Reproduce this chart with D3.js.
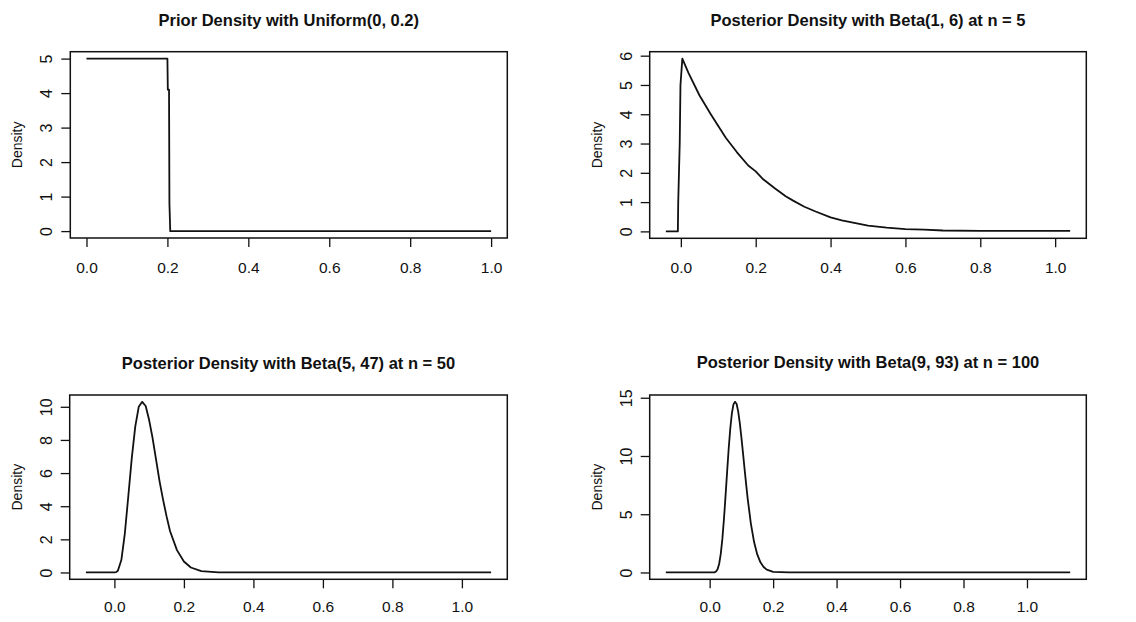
<!DOCTYPE html>
<html>
<head>
<meta charset="utf-8">
<script src="https://cdn.jsdelivr.net/npm/d3@7"></script>
<style>
body { margin: 0; background: #fff; }
text { font-family: "Liberation Sans", Arial, sans-serif; fill: #111; }
</style>
</head>
<body>
<div id="chart"></div>
<script>
// values (x, density)
let priorX = [0, 0.2, 0.201, 0.204, 0.205, 0.207, 1.0];
let priorY = [5, 5, 4.1, 4.1, 0.8, 0, 0];

let post5X = [-0.04, -0.008, -0.007, -0.003, -0.001, 0.004, 0.02, 0.05, 0.08, 0.1, 0.12, 0.15, 0.18, 0.2,
    0.22, 0.25, 0.28, 0.3, 0.33, 0.36, 0.4, 0.43, 0.46, 0.5, 0.55, 0.6, 0.65, 0.7, 0.8, 0.9, 1.0, 1.04];
let post5Y = [0, 0, 1.0, 3.0, 5.0, 5.9, 5.42, 4.64, 4.0, 3.6, 3.2, 2.7, 2.25, 2.05,
    1.78, 1.48, 1.2, 1.05, 0.84, 0.68, 0.48, 0.38, 0.3, 0.2, 0.13, 0.08, 0.06, 0.03, 0.02, 0.02, 0.02, 0.02];

let post50X = [-0.082, 0.0, 0.005, 0.01, 0.02, 0.03, 0.04, 0.05, 0.06, 0.07, 0.08, 0.09, 0.1, 0.11, 0.12,
    0.13, 0.14, 0.15, 0.16, 0.18, 0.2, 0.22, 0.25, 0.3, 0.4, 1.084];
let post50Y = [0, 0, 0.02, 0.1, 0.75, 2.35, 4.6, 6.9, 8.8, 10.0, 10.3, 10.05, 9.2, 8.1, 6.8,
    5.5, 4.4, 3.4, 2.5, 1.35, 0.66, 0.3, 0.08, 0.01, 0, 0];

let post100X = [-0.138, 0.0, 0.015, 0.02, 0.025, 0.03, 0.035, 0.04, 0.045, 0.05, 0.055, 0.06, 0.065, 0.07,
    0.075, 0.08, 0.085, 0.09, 0.095, 0.1, 0.105, 0.11, 0.115, 0.12, 0.13, 0.14, 0.15, 0.16, 0.17, 0.18,
    0.2, 0.25, 1.136];
let post100Y = [0, 0, 0.01, 0.08, 0.28, 0.75, 1.6, 2.88, 4.57, 6.55, 8.64, 10.64, 12.36, 13.66,
    14.43, 14.65, 14.46, 13.81, 12.82, 11.6, 10.27, 8.89, 7.56, 6.3, 4.18, 2.61, 1.55, 0.87, 0.47, 0.24,
    0.06, 0, 0];

let titles = [
    "Prior Density with Uniform(0, 0.2)",
    "Posterior Density with Beta(1, 6) at n = 5",
    "Posterior Density with Beta(5, 47) at n = 50",
    "Posterior Density with Beta(9, 93) at n = 100"
];
let xTicks = [0, 0.2, 0.4, 0.6, 0.8, 1.0];
let yTicksPrior = [0, 1, 2, 3, 4, 5];
let yTicks5 = [0, 1, 2, 3, 4, 5, 6];
let yTicks50 = [0, 2, 4, 6, 8, 10];
let yTicks100 = [0, 5, 10, 15];
let yLabel = "Density";

let svgwidth = 1136;
let svgheight = 622;

let svg = d3.select("#chart")
    .append("svg")
    .attr("width", svgwidth)
    .attr("height", svgheight);

// plot boxes
let panels = [
    { box: { left: 70.3, right: 507.3, top: 51.7, bottom: 238 }, titleY: 20, labelGap: 14.5, xs: priorX, ys: priorY, yTicks: yTicksPrior },
    { box: { left: 649.7, right: 1086.3, top: 51.7, bottom: 238.3 }, titleY: 20, labelGap: 14.5, xs: post5X, ys: post5Y, yTicks: yTicks5 },
    { box: { left: 69.7, right: 507.3, top: 395, bottom: 579.3 }, titleY: 363, labelGap: 12.5, xs: post50X, ys: post50Y, yTicks: yTicks50 },
    { box: { left: 649.7, right: 1086.3, top: 395, bottom: 579.3 }, titleY: 362.5, labelGap: 12.5, xs: post100X, ys: post100Y, yTicks: yTicks100 }
];

function drawPanel(p, title) {
    let box = p.box;
    let g = svg.append("g");

    // R style: pad the data range by 4% each side
    let xExt = d3.extent(p.xs);
    let xPad = (xExt[1] - xExt[0]) * 0.04;
    let x = d3.scaleLinear()
        .domain([xExt[0] - xPad, xExt[1] + xPad])
        .range([box.left, box.right]);

    let yMax = d3.max(p.ys);
    let y = d3.scaleLinear()
        .domain([-yMax * 0.04, yMax * 1.04])
        .range([box.bottom, box.top]);

    let xAxis = g.append("g")
        .attr("transform", `translate(0, ${box.bottom})`)
        .call(d3.axisBottom(x).tickValues(xTicks).tickSize(9).tickPadding(p.labelGap).tickFormat(d3.format(".1f")));
    xAxis.select(".domain").remove();
    xAxis.selectAll("line").attr("stroke", "#111").attr("stroke-width", 1.3);
    xAxis.selectAll("text")
        .attr("font-size", 15.5)
        .attr("fill", "#111")
        .style("font-family", "'Liberation Sans', Arial, sans-serif");

    let yAxis = g.append("g")
        .attr("transform", `translate(${box.left}, 0)`)
        .call(d3.axisLeft(y).tickValues(p.yTicks).tickSize(9).tickFormat(d3.format("d")));
    yAxis.select(".domain").remove();
    yAxis.selectAll("line").attr("stroke", "#111").attr("stroke-width", 1.3);
    yAxis.selectAll("text")
        .attr("x", null)
        .attr("dy", "0.35em")
        .attr("text-anchor", "middle")
        .attr("transform", "translate(-23.5, 0) rotate(-90)")
        .attr("font-size", 16)
        .attr("fill", "#111")
        .style("font-family", "'Liberation Sans', Arial, sans-serif");

    g.append("rect")
        .attr("x", box.left)
        .attr("y", box.top)
        .attr("width", box.right - box.left)
        .attr("height", box.bottom - box.top)
        .attr("fill", "none")
        .attr("stroke", "#111")
        .attr("stroke-width", 1.5);

    let line = d3.line()
        .x(i => x(p.xs[i]))
        .y(i => y(p.ys[i]));

    g.append("path")
        .datum(d3.range(p.xs.length))
        .attr("d", line)
        .attr("fill", "none")
        .attr("stroke", "#111")
        .attr("stroke-width", 1.8)
        .attr("stroke-linejoin", "round");

    g.append("text")
        .attr("x", (box.left + box.right) / 2)
        .attr("y", p.titleY)
        .attr("dy", "0.35em")
        .attr("text-anchor", "middle")
        .attr("font-size", 16.5)
        .attr("font-weight", "bold")
        .text(title);

    g.append("text")
        .attr("transform", `translate(${box.left - 53}, ${(box.top + box.bottom) / 2}) rotate(-90)`)
        .attr("dy", "0.35em")
        .attr("text-anchor", "middle")
        .attr("font-size", 14)
        .text(yLabel);
}

panels.forEach((p, i) => drawPanel(p, titles[i]));
</script>
</body>
</html>
